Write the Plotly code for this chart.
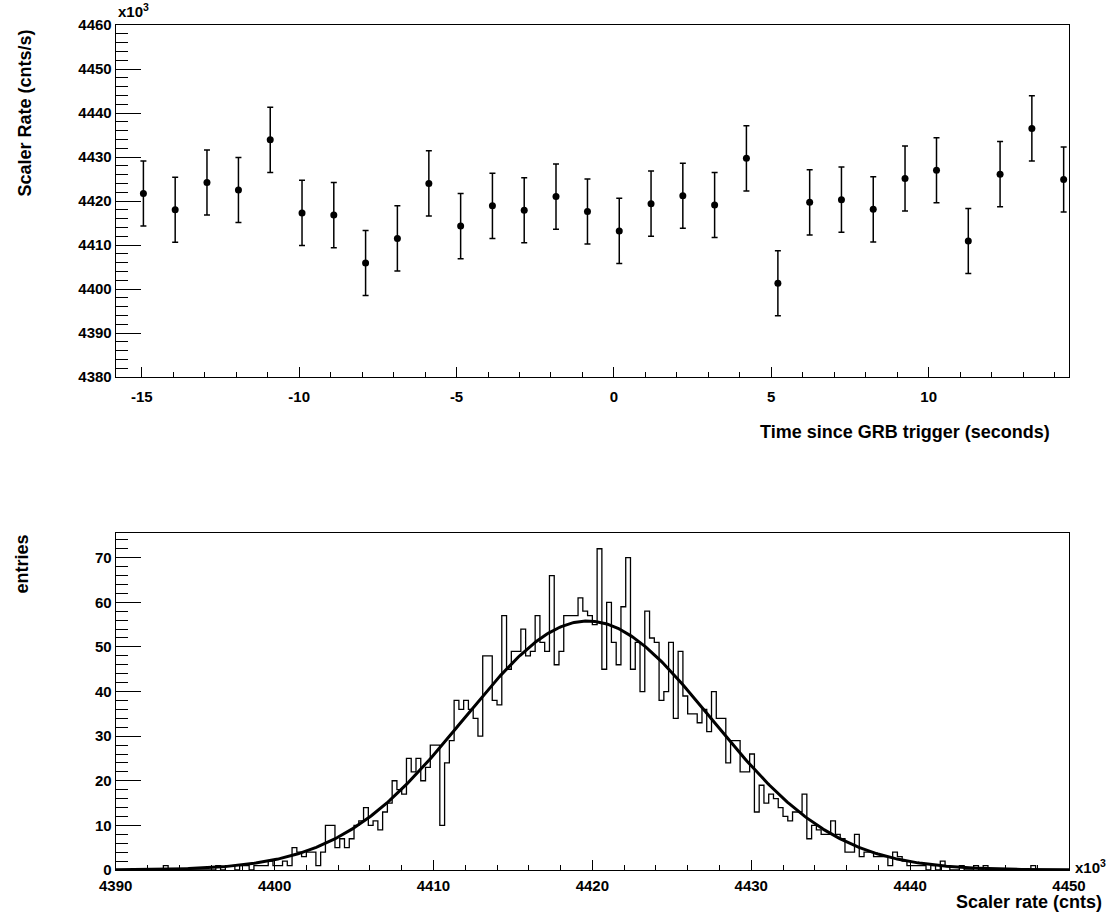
import numpy as np
import plotly.graph_objects as go

# ---------------- data: top panel (scaler rate vs time) ----------------
time_s = [-14.95, -13.94, -12.93, -11.93, -10.92, -9.91, -8.90, -7.89, -6.88, -5.88,
          -4.87, -3.86, -2.85, -1.84, -0.84, 0.17, 1.18, 2.19, 3.20, 4.21,
          5.21, 6.22, 7.23, 8.24, 9.25, 10.25, 11.26, 12.27, 13.28, 14.29]
rate_k = [4421.7, 4418.0, 4424.2, 4422.5, 4433.9, 4417.3, 4416.8, 4405.9, 4411.5, 4424.0,
          4414.3, 4418.9, 4417.9, 4421.0, 4417.6, 4413.2, 4419.4, 4421.2, 4419.1, 4429.7,
          4401.3, 4419.7, 4420.3, 4418.1, 4425.1, 4427.0, 4410.9, 4426.1, 4436.5, 4424.9]
rate_err = [7.4] * 30
time_ticks = [-15, -10, -5, 0, 5, 10]
time_tick_text = ["-15", "-10", "-5", "0", "5", "10"]

# ---------------- data: bottom panel (histogram of scaler rate) ----------------
hist_lo = 4390.0
hist_hi = 4450.0
hist_counts = [
    0, 0, 0, 0, 0, 0, 0, 0, 0, 0, 1, 0, 0, 0, 0, 0, 0, 0, 0, 0,
    0, 1, 0, 1, 1, 0, 1, 1, 0, 1, 1, 1, 2, 1, 1, 2, 1, 5, 4, 3,
    4, 4, 1, 4, 10, 10, 5, 7, 5, 7, 10, 11, 14, 10, 11, 9, 13, 15, 20, 18,
    17, 25, 22, 25, 20, 23, 28, 28, 10, 24, 29, 38, 36, 38, 36, 34, 30, 48, 48, 38,
    37, 57, 45, 49, 49, 54, 48, 49, 57, 51, 49, 66, 46, 49, 57, 57, 57, 61, 58, 57,
    55, 72, 45, 60, 51, 46, 59, 70, 45, 51, 40, 58, 52, 51, 38, 40, 51, 34, 49, 39,
    35, 35, 33, 36, 31, 40, 34, 34, 24, 29, 29, 22, 22, 26, 13, 19, 15, 17, 16, 14,
    12, 11, 13, 13, 17, 7, 10, 9, 8, 8, 11, 8, 7, 4, 4, 8, 3, 4, 4, 3,
    3, 3, 1, 4, 3, 2, 1, 1, 1, 1, 0, 1, 0, 2, 1, 0, 0, 1, 0, 0,
    1, 0, 1, 0, 0, 0, 0, 0, 0, 0, 0, 0, 1, 0, 0, 0, 0, 0, 0, 0,
]
# Gaussian fit parameters
fit_const = 55.8
fit_mean = 4419.7
fit_sigma = 7.8

# ---------------- derived ----------------
nb = len(hist_counts)
edges = np.linspace(hist_lo, hist_hi, nb + 1)
step_x = list(edges)
step_y = list(hist_counts) + [hist_counts[-1]]
fx = np.linspace(hist_lo, hist_hi, 600)
fy = fit_const * np.exp(-0.5 * ((fx - fit_mean) / fit_sigma) ** 2)

W, H = 1111, 920
def px(x):
    return x / W
def py(y):
    return 1 - y / H

FONT = "Liberation Sans, Arial, Helvetica, sans-serif"
tickfont = dict(family=FONT, size=15, color="black", weight="bold")

fig = go.Figure()
fig.add_trace(go.Scatter(
    x=time_s, y=rate_k, mode="markers",
    marker=dict(color="black", size=7),
    error_y=dict(type="data", array=rate_err, color="black", thickness=1.5, width=3),
    xaxis="x", yaxis="y", showlegend=False))
fig.add_trace(go.Scatter(
    x=step_x, y=step_y, mode="lines", line=dict(color="black", width=1.3, shape="hv"),
    xaxis="x2", yaxis="y2", showlegend=False))
fig.add_trace(go.Scatter(
    x=fx, y=fy, mode="lines", line=dict(color="black", width=3),
    xaxis="x2", yaxis="y2", showlegend=False))

xdom = [px(115.7), px(1069)]
common = dict(showline=True, linecolor="black", linewidth=1, mirror=True,
              showgrid=False, zeroline=False, ticks="inside", tickcolor="black",
              tickwidth=1, tickfont=tickfont, automargin=False)

fig.update_layout(
    width=W, height=H, margin=dict(l=0, r=0, t=0, b=0, pad=0),
    paper_bgcolor="white", plot_bgcolor="white",
    xaxis=dict(domain=xdom, range=[-15.83, 14.46], anchor="y",
               tickmode="array", tickvals=time_ticks, ticktext=time_tick_text, ticklen=10,
               minor=dict(dtick=1, tick0=0, ticklen=5, ticks="inside", tickcolor="black"),
               ticklabelstandoff=6, **common),
    yaxis=dict(domain=[py(377), py(25)], range=[4380, 4460], anchor="x", tick0=4380, dtick=10,
               ticklen=25,
               minor=dict(dtick=2, tick0=4380, ticklen=12, ticks="inside", tickcolor="black"),
               **common),
    xaxis2=dict(domain=xdom, range=[hist_lo, hist_hi], anchor="y2", tick0=4390, dtick=10,
                ticklen=10,
                minor=dict(dtick=2, tick0=4390, ticklen=5, ticks="inside", tickcolor="black"),
                ticklabelstandoff=2, **common),
    yaxis2=dict(domain=[py(870), py(532.7)], range=[0, 75.6], anchor="x2", tick0=0, dtick=10,
                ticklen=25,
                minor=dict(dtick=2, tick0=0, ticklen=12, ticks="inside", tickcolor="black"),
                **common),
)

tfont = dict(family=FONT, size=18, color="black", weight="bold")
efont = dict(family=FONT, size=15, color="black", weight="bold")
ann = [
    dict(text="Scaler Rate (cnts/s)", x=px(24), y=py(28), textangle=-90,
         xanchor="center", yanchor="top", font=tfont),
    dict(text="Time since GRB trigger (seconds)", x=px(1052), y=py(432),
         xanchor="right", yanchor="middle", font=tfont),
    dict(text="entries", x=px(21), y=py(533), textangle=-90,
         xanchor="center", yanchor="top", font=tfont),
    dict(text="Scaler rate (cnts)", x=px(1104), y=py(902),
         xanchor="right", yanchor="middle", font=tfont),
    dict(text="x10<sup>3</sup>", x=px(116), y=py(22),
         xanchor="left", yanchor="bottom", font=efont),
    dict(text="x10<sup>3</sup>", x=px(1073), y=py(866),
         xanchor="left", yanchor="middle", font=efont),
]
for a in ann:
    a.update(xref="paper", yref="paper", showarrow=False)
fig.update_layout(annotations=ann)

fig.write_html(
    "out.html",
    config={"displayModeBar": False},
    post_script="document.documentElement.style.margin='0';document.body.style.margin='0';"
                "document.documentElement.style.overflow='hidden';document.body.style.overflow='hidden';",
)
